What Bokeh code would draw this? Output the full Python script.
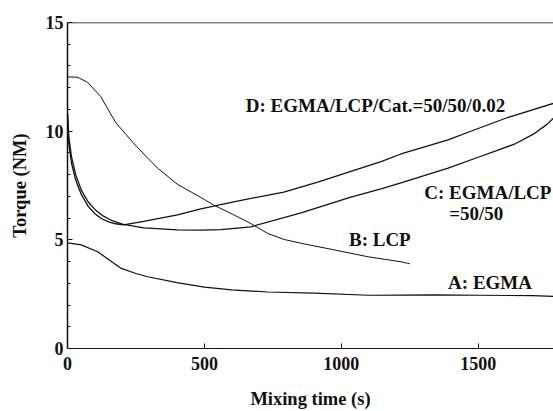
from bokeh.plotting import figure
from bokeh.models import FixedTicker, Span, ColumnDataSource
from bokeh.core.properties import value
from bokeh.embed import file_html
from bokeh.resources import INLINE

# Torque (NM) against mixing time (s) for the four systems
time_a = [0, 50, 110, 150, 194, 250, 293, 400, 500, 600, 730, 900, 1100, 1340, 1500, 1700, 1775]
torque_a = [4.86, 4.77, 4.45, 4.1, 3.7, 3.45, 3.3, 3.03, 2.82, 2.7, 2.6, 2.55, 2.45, 2.47, 2.45, 2.43, 2.4]

time_b = [0, 37, 73, 121, 146, 176, 210, 241, 290, 329, 402, 487, 534, 607, 670, 730, 790, 850, 973, 1098, 1218, 1250]
torque_b = [12.5, 12.48, 12.25, 11.6, 11.05, 10.4, 9.9, 9.45, 8.8, 8.3, 7.55, 6.95, 6.6, 6.15, 5.75, 5.3, 5.02, 4.85, 4.54, 4.22, 3.99, 3.9]

time_c = [0, 5, 15, 30, 50, 75, 100, 130, 160, 200, 278, 402, 487, 560, 670, 853, 1035, 1145, 1218, 1390, 1500, 1632, 1700, 1750, 1775]
torque_c = [10.8, 9.7, 8.8, 8.0, 7.3, 6.75, 6.4, 6.1, 5.9, 5.72, 5.55, 5.46, 5.45, 5.47, 5.6, 6.24, 6.97, 7.35, 7.62, 8.3, 8.8, 9.4, 9.85, 10.3, 10.6]

time_d = [0, 5, 15, 30, 50, 75, 100, 125, 150, 175, 205, 278, 402, 487, 607, 790, 914, 1035, 1145, 1218, 1390, 1463, 1610, 1775]
torque_d = [10.8, 9.4, 8.5, 7.75, 7.1, 6.55, 6.2, 5.97, 5.83, 5.74, 5.69, 5.85, 6.15, 6.42, 6.75, 7.2, 7.66, 8.15, 8.6, 8.95, 9.6, 9.95, 10.64, 11.28]

x_ticks = [0, 500, 1000, 1500]
y_ticks = [0, 5, 10, 15]
y_minor = [1, 2, 3, 4, 6, 7, 8, 9, 11, 12, 13, 14]

# curve annotations and where they sit (data units)
label_text = ["D: EGMA/LCP/Cat.=50/50/0.02", "C: EGMA/LCP", "=50/50", "B: LCP", "A: EGMA"]
label_x = [651, 1303, 1394, 1028, 1390]
label_y = [11.19, 7.2, 6.19, 5.0, 3.03]

FONT = "Liberation Serif"

p = figure(width=553, height=411, output_backend="svg", toolbar_location=None,
           x_range=(0, 1775), y_range=(0, 15),
           min_border_left=67, min_border_right=0, min_border_top=22, min_border_bottom=62)
p.grid.visible = False
p.outline_line_color = None
p.background_fill_color = "white"
p.border_fill_color = "white"

p.line(time_a, torque_a, line_color="#111111", line_width=1.2)
p.line(time_b, torque_b, line_color="#111111", line_width=1.0)
p.line(time_c, torque_c, line_color="#111111", line_width=1.3)
p.line(time_d, torque_d, line_color="#111111", line_width=1.3)

# top edge of the frame
p.add_layout(Span(location=15, dimension="width", line_color="#111111", line_width=1.5))

for ax in (p.xaxis[0], p.yaxis[0]):
    ax.axis_line_color = "#111111"
    ax.major_tick_in = 5
    ax.major_tick_out = 0
    ax.minor_tick_in = 3
    ax.minor_tick_out = 0
    ax.major_tick_line_color = "#111111"
    ax.minor_tick_line_color = "#111111"
    ax.major_label_text_font = FONT
    ax.major_label_text_font_style = "bold"
    ax.major_label_text_font_size = "18px"
    ax.major_label_text_color = "#111111"
    ax.axis_label_text_font = FONT
    ax.axis_label_text_font_style = "bold"
    ax.axis_label_text_font_size = "18.5px"
    ax.axis_label_text_color = "#111111"

p.xaxis.ticker = FixedTicker(ticks=x_ticks, minor_ticks=[])
p.yaxis.ticker = FixedTicker(ticks=y_ticks, minor_ticks=y_minor)
p.yaxis.axis_line_width = 1.5
p.xaxis.axis_line_width = 1.2
p.xaxis.major_label_standoff = 8
p.yaxis.major_label_standoff = 4
p.xaxis.axis_label = "Mixing time (s)"
p.yaxis.axis_label = "Torque (NM)"
p.xaxis.axis_label_standoff = 16
p.yaxis.axis_label_standoff = 13

src = ColumnDataSource(dict(x=label_x, y=label_y, text=label_text))
p.text(x="x", y="y", text="text", source=src, text_font=value(FONT),
       text_font_style="bold", text_font_size="19px", text_color="#111111",
       text_align="left", text_baseline="middle")

open("out.html", "w").write(file_html(p, INLINE))
